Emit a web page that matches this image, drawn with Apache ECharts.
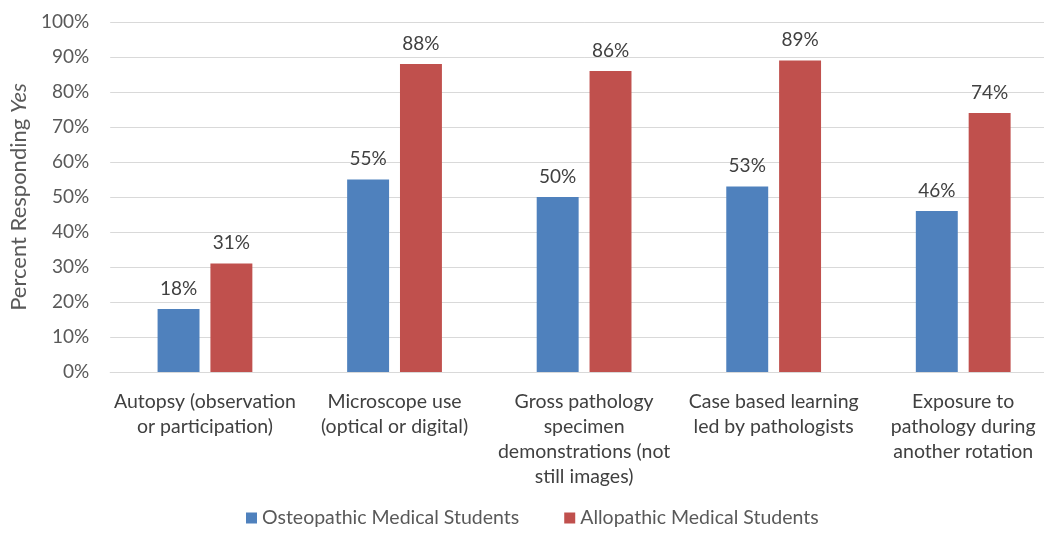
<!DOCTYPE html>
<html><head><meta charset="utf-8">
<script src="https://cdn.jsdelivr.net/npm/echarts@6/dist/echarts.min.js"></script>
<style>html,body{margin:0;padding:0;background:#fff;overflow:hidden;width:1044px;height:534px}#c{width:1058px;height:534px}</style>
</head><body><div id="c"></div>
<script>
const categories = [
  "Autopsy (observation\nor participation)",
  "Microscope use\n(optical or digital)",
  "Gross pathology\nspecimen\ndemonstrations (not\nstill images)",
  "Case based learning\nled by pathologists",
  "Exposure to\npathology during\nanother rotation"
];
const osteopathic = [18, 55, 50, 53, 46];
const allopathic = [31, 88, 86, 89, 74];
const yTicks = [0, 10, 20, 30, 40, 50, 60, 70, 80, 90, 100];
const seriesNames = ["Osteopathic Medical Students", "Allopathic Medical Students"];

const FONT = "Lato";
const chart = echarts.init(document.getElementById('c'));
const lbl = {show:true, position:'top', formatter:'{c}%', color:'#404040', fontSize:19, fontFamily:FONT, distance:11};
chart.setOption({
  animation:false,
  textStyle:{fontFamily:FONT},
  grid:{left:109, top:22, right:0, bottom:162, containLabel:false},
  legend:{bottom:1, left:241, itemWidth:11, itemHeight:11, itemGap:45, icon:'rect',
    textStyle:{fontSize:19.5, color:'#595959', fontFamily:FONT}, data:seriesNames},
  xAxis:{type:'category', data:categories,
    axisLine:{lineStyle:{color:'#d9d9d9'}}, axisTick:{show:false},
    axisLabel:{color:'#404040', fontSize:19.5, fontFamily:FONT, lineHeight:25, margin:17, interval:0}},
  yAxis:{type:'value', min:yTicks[0], max:yTicks[yTicks.length-1], interval:10,
    name:'Percent Responding {i|Yes}', nameLocation:'middle', nameGap:75, nameRotate:90,
    nameTextStyle:{color:'#595959', fontSize:22, fontFamily:FONT, rich:{i:{fontStyle:'italic', fontSize:22, color:'#595959', fontFamily:FONT}}},
    axisLine:{show:false}, axisTick:{show:false},
    splitLine:{lineStyle:{color:'#d9d9d9'}},
    axisLabel:{formatter:'{value}%', color:'#595959', fontSize:19, fontFamily:FONT, margin:21}},
  series:[
    {name:seriesNames[0], type:'bar', data:osteopathic, itemStyle:{color:'#4F81BD'}, barGap:'26%', barCategoryGap:'50%', label:lbl},
    {name:seriesNames[1], type:'bar', data:allopathic, itemStyle:{color:'#C0504D'}, label:lbl}
  ]
});
</script></body></html>
